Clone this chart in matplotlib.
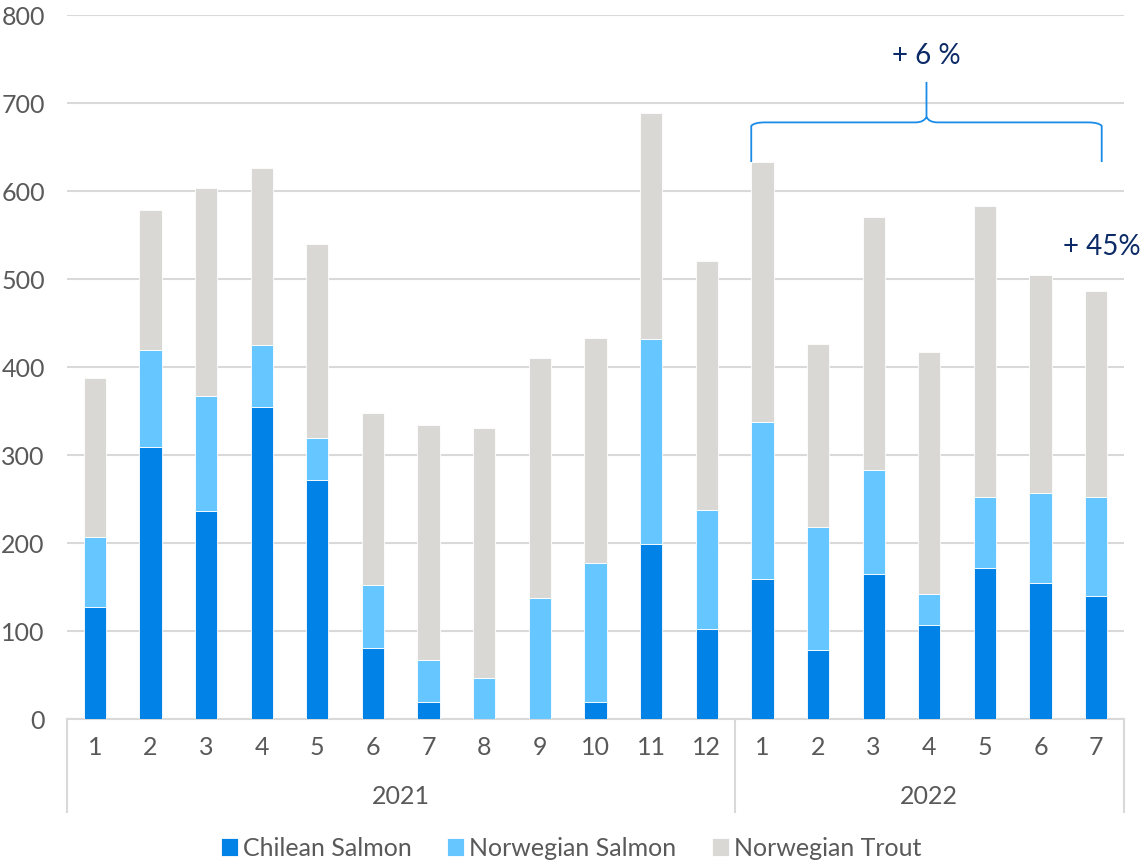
import matplotlib.pyplot as plt
import matplotlib.transforms as mtransforms
from matplotlib.path import Path
from matplotlib.patches import PathPatch
import numpy as np

plt.rcParams['font.family'] = ['Lato', 'DejaVu Sans']

months = ['1', '2', '3', '4', '5', '6', '7', '8', '9', '10', '11', '12',
          '1', '2', '3', '4', '5', '6', '7']
years = ['2021', '2022']
year_counts = [12, 7]

chilean = [127, 309, 236, 355, 272, 81, 19, 0, 0, 19, 199, 102,
           159, 78, 165, 107, 172, 155, 140]
norw_salmon = [80, 110, 131, 70, 47, 71, 48, 47, 138, 158, 233, 136,
               179, 140, 118, 35, 80, 102, 112]
norw_trout = [181, 159, 237, 201, 221, 196, 267, 284, 272, 256, 257, 282,
              295, 208, 287, 275, 331, 248, 234]

c_chile = '#0082E6'
c_nsal = '#66C6FF'
c_trout = '#D9D8D5'
grey = '#595959'
navy = '#0B2A66'

fig = plt.figure(figsize=(11.42, 8.64), dpi=100)
ax = fig.add_axes([0.0587, 0.1678, 0.9255, 0.8148])

x = np.arange(len(months))
chilean = np.array(chilean)
norw_salmon = np.array(norw_salmon)
norw_trout = np.array(norw_trout)
w = 0.4
ax.bar(x, chilean, w, color=c_chile, edgecolor='white', linewidth=0.6, label='Chilean Salmon', zorder=3)
ax.bar(x, norw_salmon, w, bottom=chilean, color=c_nsal, edgecolor='white', linewidth=0.6,
       label='Norwegian Salmon', zorder=3)
ax.bar(x, norw_trout, w, bottom=chilean + norw_salmon, color=c_trout, edgecolor='white',
       linewidth=0.6, label='Norwegian Trout', zorder=3)

ax.set_xlim(-0.5, len(months) - 0.5)
ax.set_ylim(0, 800)
ax.set_yticks(range(0, 801, 100))
ax.yaxis.grid(True, color='#D9D9D9', linewidth=1.5, zorder=0)
ax.set_axisbelow(True)
for s in ['top', 'right', 'left']:
    ax.spines[s].set_visible(False)
ax.spines['bottom'].set_color('#D9D9D9')
ax.spines['bottom'].set_linewidth(1.5)
ax.tick_params(axis='y', length=0, labelsize=18, labelcolor=grey, pad=16)
ax.set_xticks(x)
ax.set_xticklabels(months)
ax.tick_params(axis='x', length=0, labelsize=18, labelcolor=grey, pad=12)

# year grouping
trans = mtransforms.blended_transform_factory(ax.transData, ax.transAxes)
start = -0.5
bounds = [start]
for yr, n in zip(years, year_counts):
    ax.text(start + n / 2, -0.11, yr, transform=trans, ha='center', va='center',
            fontsize=18, color=grey)
    start += n
    bounds.append(start)
for b in bounds:
    ax.plot([b, b], [0, -0.132], transform=trans, color='#D9D9D9', lw=1.5, clip_on=False)

# brace over 2022
xl, xr = 12 - 0.2, 18 + 0.1
xm = (xl + xr) / 2
y0, y1, y2 = 633, 678, 724
verts = [(xl, y0), (xl, y1 - 4), (xl + 0.05, y1), (xl + 0.25, y1),
         (xm - 0.2, y1), (xm - 0.05, y1), (xm, y1 + 6), (xm, y2),
         (xm, y1 + 6), (xm + 0.05, y1), (xm + 0.2, y1),
         (xr - 0.25, y1), (xr - 0.05, y1), (xr, y1 - 4), (xr, y0)]
codes = [Path.MOVETO, Path.LINETO, Path.CURVE3, Path.CURVE3,
         Path.LINETO, Path.CURVE3, Path.CURVE3, Path.LINETO,
         Path.MOVETO, Path.CURVE3, Path.CURVE3,
         Path.LINETO, Path.CURVE3, Path.CURVE3, Path.LINETO]
ax.add_patch(PathPatch(Path(verts, codes), fill=False, edgecolor='#1A8CE8', lw=1.3,
                       zorder=4, clip_on=False))
ax.text(xm, 754, '+ 6 %', ha='center', va='center', fontsize=20, color=navy, clip_on=False)
ax.text(18.8, 536, '+ 45%', ha='right', va='center', fontsize=20, color=navy, clip_on=False)

fig.legend(loc='center', bbox_to_anchor=(0.5, 0.018), ncol=3, frameon=False,
           fontsize=18, labelcolor=grey, handlelength=0.7, handleheight=0.7,
           handletextpad=0.2, columnspacing=1.4)

fig.savefig('out.png', dpi=100)
